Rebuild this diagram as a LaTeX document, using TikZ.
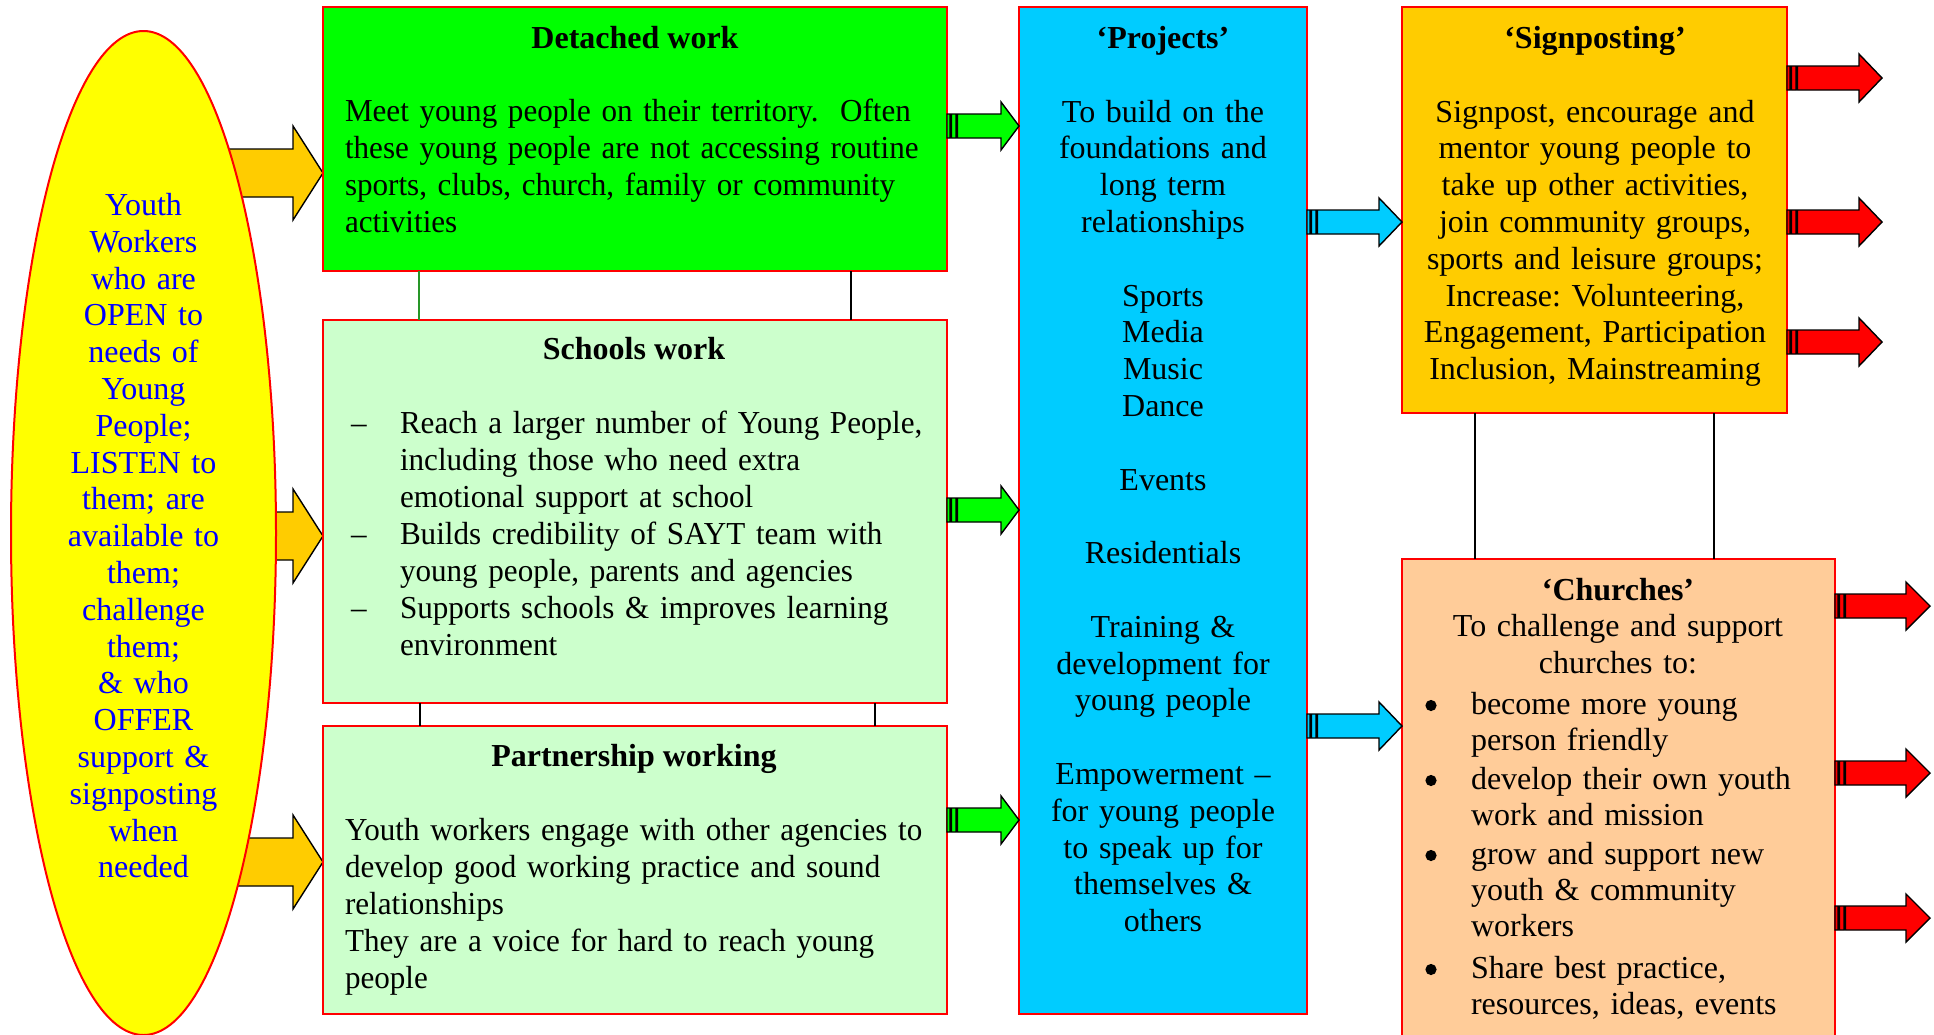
\documentclass[tikz,border=0pt]{standalone}
\usepackage{fontspec}
\setmainfont{Liberation Serif}
\newfontfamily\condfont[FakeStretch=0.972]{Liberation Serif}
\usetikzlibrary{calc,shapes.geometric,backgrounds}
\definecolor{brgreen}{RGB}{0,255,0}
\definecolor{ltgreen}{RGB}{204,255,204}
\definecolor{skyb}{RGB}{0,204,255}
\definecolor{gold}{RGB}{255,204,0}
\definecolor{peach}{RGB}{255,204,153}
\definecolor{yel}{RGB}{255,255,0}
\definecolor{txtblue}{RGB}{0,0,255}
\definecolor{lnkgreen}{RGB}{40,150,40}
% #1 fill, #2 start point, #3 tip point, #4 shaft half, #5 head half, #6 head length
\newcommand{\blockarrow}[6]{%
  \draw[arrowline, fill=#1] let \p1=#2, \p2=#3 in
    (\x1,\y1+#4) -- (\x2-#6,\y1+#4) -- (\x2-#6,\y1+#5) -- (\x2,\y1)
    -- (\x2-#6,\y1-#5) -- (\x2-#6,\y1-#4) -- (\x1,\y1-#4) -- cycle;}
% #1 fill, #2 start point, #3 tip point, #4 head length
\newcommand{\stripearrow}[4]{%
  \draw[arrowline, fill=#1] let \p1=#2, \p2=#3 in
    (\x1,\y1-6pt) rectangle (\x1+1.5pt,\y1+6pt)
    (\x1+2.25pt,\y1-6pt) rectangle (\x1+4.5pt,\y1+6pt)
    (\x1+5.25pt,\y1+6pt) -- (\x2-#4,\y1+6pt) -- (\x2-#4,\y1+12pt) -- (\x2,\y1)
    -- (\x2-#4,\y1-12pt) -- (\x2-#4,\y1-6pt) -- (\x1+5.25pt,\y1-6pt) -- cycle;}
\begin{document}
\frenchspacing
\begin{tikzpicture}[x=0.5pt,y=-0.5pt,
  box/.style={draw=red, line width=1pt, inner sep=0pt, outer sep=0pt, anchor=north west},
  txt/.style={inner sep=0pt, outer sep=0pt, font=\fontsize{16pt}{18.4pt}\selectfont},
  ctxt/.style={inner sep=0pt, outer sep=0pt, font=\condfont\fontsize{16pt}{18.5pt}\selectfont},
  ttl/.style={inner sep=0pt, outer sep=0pt, font=\fontsize{16pt}{18.4pt}\selectfont\bfseries},
  dot/.style={circle, fill=black, inner sep=0pt, outer sep=0pt, minimum size=5.6pt},
  conn/.style={line width=0.6pt, draw=black},
  arrowline/.style={draw=black, line width=0.7pt, line join=miter}]
\useasboundingbox (0,0) rectangle (1934,1034);
\clip (0,0) rectangle (1934,1034);

% boxes
\node[box, fill=brgreen, line width=1.3pt, minimum width=312pt, minimum height=132pt] (detached) at (323,7) {};
\node[box, fill=ltgreen, line width=0.7pt, minimum width=312pt, minimum height=191.5pt] (schools) at (323,320) {};
\node[box, fill=ltgreen, line width=1pt, minimum width=312pt, minimum height=144pt] (partner) at (323,726) {};
\node[box, fill=skyb, line width=1.4pt, minimum width=144pt, minimum height=503.5pt] (projects) at (1019,7) {};
\node[box, fill=gold, line width=1.1pt, minimum width=192.5pt, minimum height=203pt] (signpost) at (1402,7) {};
\node[box, fill=peach, line width=0.8pt, minimum width=216.5pt, minimum height=245pt] (churches) at (1402,559) {};

% ellipse
\node[ellipse, draw=red, fill=yel, line width=1pt, inner sep=0pt, outer sep=0pt,
      minimum width=132.5pt, minimum height=502pt] (youth) at (143.5,533) {};

% thin connectors between boxes
\draw[conn, draw=lnkgreen] ([xshift=48pt]detached.south west) -- ([xshift=48pt]schools.north west);
\draw[conn] ([xshift=264pt]detached.south west) -- ([xshift=264pt]schools.north west);
\draw[conn] ([xshift=48.5pt]schools.south west) -- ([xshift=48.5pt]partner.north west);
\draw[conn] ([xshift=276pt]schools.south west) -- ([xshift=276pt]partner.north west);
\draw[conn] ([xshift=36.5pt]signpost.south west) -- ([xshift=36.5pt]churches.north west);
\draw[conn] ([xshift=156pt]signpost.south west) -- ([xshift=156pt]churches.north west);

% orange arrows behind the ellipse
\begin{scope}[on background layer]
\blockarrow{gold}{($(youth.center |- detached.north)+(0,166)$)}{(detached.west)}{12pt}{23.5pt}{15pt}
\blockarrow{gold}{($(youth.center |- schools.north)+(0,216)$)}{(schools.west)}{12pt}{23.5pt}{15pt}
\blockarrow{gold}{($(youth.center |- partner.north)+(0,136)$)}{(partner.west)}{12pt}{23.5pt}{15pt}
\end{scope}

% green arrows
\stripearrow{brgreen}{($(detached.north east)+(0,119)$)}{(projects.west)}{9pt}
\stripearrow{brgreen}{($(schools.north east)+(0,190)$)}{(projects.west)}{9pt}
\stripearrow{brgreen}{($(partner.north east)+(0,94)$)}{(projects.west)}{9pt}
% blue arrows
\stripearrow{skyb}{($(projects.north east)+(0,215)$)}{(signpost.west)}{11.5pt}
\stripearrow{skyb}{($(projects.north east)+(0,719)$)}{(churches.west)}{11.5pt}
% red arrows
\coordinate (ra) at (1882,78);
\coordinate (rb) at (1882,222);
\coordinate (rc) at (1882,342);
\coordinate (rd) at (1930,606);
\coordinate (re) at (1930,773);
\coordinate (rf) at (1930,918);
\stripearrow{red}{($(signpost.north east)+(0,71)$)}{(ra)}{11.5pt}
\stripearrow{red}{($(signpost.north east)+(0,215)$)}{(rb)}{11.5pt}
\stripearrow{red}{($(signpost.north east)+(0,335)$)}{(rc)}{11.5pt}
\stripearrow{red}{($(churches.north east)+(0,47)$)}{(rd)}{12pt}
\stripearrow{red}{($(churches.north east)+(0,214)$)}{(re)}{12pt}
\stripearrow{red}{($(churches.north east)+(0,359)$)}{(rf)}{12pt}

% ellipse text
\node[txt, text=txtblue, anchor=base, text width=85pt, align=center] (ytext) at (143.5,215.5)
 {Youth\\Workers\\who are\\OPEN to\\needs of\\Young\\People;\\LISTEN to\\them; are\\available to\\them;\\challenge\\them;\\\& who\\OFFER\\support \&\\signposting\\when\\needed};

% detached work
\node[ttl, anchor=base] (dtitle) at (635,48.5) {Detached work};
\node[ctxt, anchor=base west, text width=300pt, align=left] (dbody) at (345,121)
 {Meet young people on their territory.\ \ Often\\these young people are not accessing routine\\sports, clubs, church, family or community\\activities};

% schools work
\node[ttl, anchor=base] (stitle) at (634,359.5) {Schools work};
\node[ctxt, anchor=base] (sd1) at (359,433.5) {–};
\node[ctxt, anchor=base west, text width=280pt, align=left] (si1) at (400,433.5)
 {Reach a larger number of Young People,\\including those who need extra\\emotional support at school};
\node[ctxt, anchor=base] (sd2) at (359,544) {–};
\node[ctxt, anchor=base west, text width=280pt, align=left] (si2) at (400,544)
 {Builds credibility of SAYT team with\\young people, parents and agencies};
\node[ctxt, anchor=base] (sd3) at (359,618) {–};
\node[ctxt, anchor=base west, text width=280pt, align=left] (si3) at (400,618)
 {Supports schools \& improves learning\\environment};

% partnership working
\node[ttl, anchor=base] (ptitle) at (634,766.5) {Partnership working};
\node[ctxt, anchor=base west, text width=305pt, align=left] (pbody) at (345,840.5)
 {Youth workers engage with other agencies to\\develop good working practice and sound\\relationships\\They are a voice for hard to reach young\\people};

% projects
\node[txt, anchor=base, text width=140pt, align=center] (prtext) at (1163,48.5)
 {\textbf{‘Projects’}\\\mbox{}\\To build on the\\foundations and\\long term\\relationships\\\mbox{}\\Sports\\Media\\Music\\Dance\\\mbox{}\\Events\\\mbox{}\\Residentials\\\mbox{}\\Training \&\\development for\\young people\\\mbox{}\\Empowerment –\\for young people\\to speak up for\\themselves \&\\others};

% signposting
\node[txt, anchor=base, text width=186pt, align=center] (sptext) at (1595,48.5)
 {\textbf{‘Signposting’}\\\mbox{}\\Signpost, encourage and\\mentor young people to\\take up other activities,\\join community groups,\\sports and leisure groups;\\Increase: Volunteering,\\Engagement, Participation\\Inclusion, Mainstreaming};

% churches
\node[txt, anchor=base, text width=210pt, align=center] (chead) at (1618,600)
 {\textbf{‘Churches’}\\To challenge and support\\churches to:};
\node[dot] (cb1) at (1431,705.5) {};
\node[txt, font=\fontsize{16pt}{18pt}\selectfont, anchor=base west, text width=180pt, align=left] (ci1) at (1471,714.5)
 {become more young\\person friendly};
\node[dot] (cb2) at (1431,780.5) {};
\node[txt, font=\fontsize{16pt}{18pt}\selectfont, anchor=base west, text width=180pt, align=left] (ci2) at (1471,789.5)
 {develop their own youth\\work and mission};
\node[dot] (cb3) at (1431,855.5) {};
\node[txt, font=\fontsize{16pt}{18pt}\selectfont, anchor=base west, text width=180pt, align=left] (ci3) at (1471,864.5)
 {grow and support new\\youth \& community\\workers};
\node[dot] (cb4) at (1431,969.5) {};
\node[txt, font=\fontsize{16pt}{18pt}\selectfont, anchor=base west, text width=180pt, align=left] (ci4) at (1471,978.5)
 {Share best practice,\\resources, ideas, events};
\end{tikzpicture}
\end{document}
